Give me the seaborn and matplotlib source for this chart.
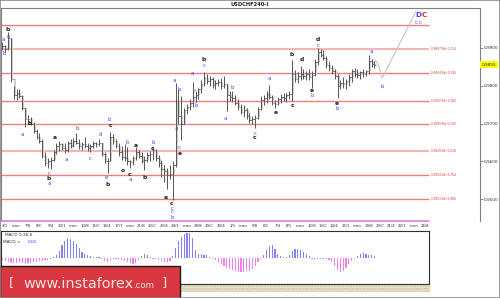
import numpy as np
import pandas as pd
import matplotlib
matplotlib.use("Agg")
import matplotlib.pyplot as plt
import matplotlib.transforms as mtransforms
from matplotlib.patches import Rectangle
import seaborn as sns

sns.set_style("white")
plt.rcParams['font.family'] = ['DejaVu Sans']

# ---------------- data ----------------
title = "USDCHF240-I"
highs = [0.9915, 0.9908, 0.9941, 0.9925, 0.9800, 0.9790, 0.9792, 0.9775, 0.9740, 0.9722,
         0.9718, 0.9705, 0.9685, 0.9675, 0.9660, 0.9625, 0.9608, 0.9612, 0.9630, 0.9650,
         0.9655, 0.9650, 0.9648, 0.9655, 0.9660, 0.9662, 0.9676, 0.9660, 0.9652, 0.9665,
         0.9650, 0.9645, 0.9655, 0.9652, 0.9660, 0.9650, 0.9625, 0.9610, 0.9678, 0.9672,
         0.9660, 0.9648, 0.9640, 0.9645, 0.9637, 0.9605, 0.9615, 0.9638, 0.9630, 0.9625,
         0.9615, 0.9625, 0.9628, 0.9640, 0.9632, 0.9618, 0.9605, 0.9590, 0.9582, 0.9590,
         0.9600, 0.9808, 0.9790, 0.9772, 0.9740, 0.9752, 0.9765, 0.9810, 0.9785, 0.9795,
         0.9815, 0.9836, 0.9830, 0.9825, 0.9822, 0.9815, 0.9818, 0.9820, 0.9825, 0.9805,
         0.9785, 0.9785, 0.9775, 0.9765, 0.9752, 0.9748, 0.9740, 0.9728, 0.9720, 0.9722,
         0.9745, 0.9772, 0.9775, 0.9785, 0.9802, 0.9775, 0.9762, 0.9770, 0.9778, 0.9782,
         0.9780, 0.9785, 0.9868, 0.9842, 0.9835, 0.9852, 0.9845, 0.9838, 0.9845, 0.9838,
         0.9870, 0.9900, 0.9898, 0.9895, 0.9878, 0.9865, 0.9855, 0.9845, 0.9830, 0.9815,
         0.9822, 0.9818, 0.9830, 0.9845, 0.9848, 0.9845, 0.9840, 0.9845, 0.9842, 0.9882,
         0.9870, 0.9865]
lows = [0.9893, 0.9889, 0.9895, 0.9809, 0.9765, 0.9762, 0.9768, 0.9735, 0.9692, 0.9700,
        0.9697, 0.9675, 0.9660, 0.9650, 0.9610, 0.9588, 0.9584, 0.9580, 0.9600, 0.9620,
        0.9628, 0.9630, 0.9622, 0.9625, 0.9635, 0.9638, 0.9645, 0.9632, 0.9630, 0.9635,
        0.9628, 0.9624, 0.9635, 0.9638, 0.9640, 0.9615, 0.9595, 0.9570, 0.9600, 0.9645,
        0.9635, 0.9615, 0.9605, 0.9600, 0.9592, 0.9582, 0.9590, 0.9605, 0.9608, 0.9595,
        0.9578, 0.9598, 0.9600, 0.9605, 0.9600, 0.9585, 0.9560, 0.9545, 0.9528, 0.9555,
        0.9498, 0.9585, 0.9700, 0.9658, 0.9700, 0.9725, 0.9735, 0.9745, 0.9758, 0.9765,
        0.9780, 0.9800, 0.9805, 0.9800, 0.9795, 0.9792, 0.9798, 0.9790, 0.9795, 0.9732,
        0.9760, 0.9758, 0.9750, 0.9735, 0.9725, 0.9718, 0.9712, 0.9702, 0.9700, 0.9688,
        0.9712, 0.9735, 0.9748, 0.9755, 0.9765, 0.9750, 0.9740, 0.9748, 0.9755, 0.9760,
        0.9758, 0.9765, 0.9760, 0.9810, 0.9808, 0.9815, 0.9818, 0.9815, 0.9815, 0.9795,
        0.9825, 0.9855, 0.9875, 0.9868, 0.9848, 0.9840, 0.9830, 0.9818, 0.9767, 0.9790,
        0.9795, 0.9792, 0.9800, 0.9810, 0.9822, 0.9820, 0.9818, 0.9822, 0.9825, 0.9832,
        0.9850, 0.9848]
closes = [0.9905, 0.9897, 0.9925, 0.9818, 0.9775, 0.9782, 0.9772, 0.9742, 0.9712, 0.9712,
          0.9700, 0.9680, 0.9665, 0.9655, 0.9615, 0.9595, 0.9600, 0.9605, 0.9625, 0.9642,
          0.9645, 0.9635, 0.9630, 0.9648, 0.9640, 0.9655, 0.9650, 0.9640, 0.9645, 0.9640,
          0.9636, 0.9640, 0.9648, 0.9645, 0.9650, 0.9620, 0.9600, 0.9602, 0.9665, 0.9655,
          0.9640, 0.9625, 0.9612, 0.9608, 0.9600, 0.9598, 0.9610, 0.9625, 0.9615, 0.9600,
          0.9605, 0.9618, 0.9620, 0.9630, 0.9610, 0.9595, 0.9580, 0.9575, 0.9565, 0.9568,
          0.9590, 0.9760, 0.9720, 0.9700, 0.9735, 0.9745, 0.9755, 0.9770, 0.9775, 0.9790,
          0.9805, 0.9820, 0.9812, 0.9818, 0.9802, 0.9808, 0.9810, 0.9800, 0.9805, 0.9775,
          0.9770, 0.9768, 0.9755, 0.9745, 0.9730, 0.9735, 0.9720, 0.9710, 0.9712, 0.9715,
          0.9738, 0.9762, 0.9768, 0.9778, 0.9770, 0.9755, 0.9752, 0.9765, 0.9770, 0.9768,
          0.9775, 0.9778, 0.9830, 0.9818, 0.9825, 0.9830, 0.9826, 0.9832, 0.9822, 0.9828,
          0.9862, 0.9890, 0.9882, 0.9872, 0.9855, 0.9848, 0.9838, 0.9825, 0.9800, 0.9808,
          0.9805, 0.9812, 0.9822, 0.9838, 0.9830, 0.9828, 0.9835, 0.9830, 0.9838, 0.9865,
          0.9858, 0.9855]
first_open = 0.9900

macd_hist = [-2, -3, -4, -5, -5, -5, -4, -5, -6, -5,
             -5, -4, -4, -3, -3, -2, -2, -1, 1, 3,
             7, 13, 17, 20, 19, 17, 14, 10, 6, 4,
             3, 2, 1.5, 1, 1, -1, -3, -4, -2, -1,
             -1, -2, -2, -3, -4, -5, -6, -5, -2, 2,
             4, 3, 1, -1, -1, -2, -3, -4, -4, -3,
             2, 10, 17, 21, 24, 25, 25, 20, 8, 4,
             4, 3, 3, 1, -1, -2, -4, -6, -8, -10,
             -11, -12, -13, -14, -14, -14, -13, -13, -11, -8,
             -4, -1, 3, 8, 12, 13, 9, 4, 2, 1,
             1, 3, 7, 9, 9, 8, 6, 4, 2, -1,
             -2, -1, -1, -1, -1, -2, -4, -8, -12, -14,
             -13, -10, -6, -3, -1, 2, 4, 5, 4, 3,
             3, 2]

fib_levels = [0.9960, 0.9897, 0.9834, 0.9760, 0.9699, 0.9629, 0.9564, 0.9501]
fib_labels = ["", "0,9897 Ret 0.114", "0,9834 Ret 0.236", "0,9760 Ret 0.382",
              "0,9699 Ret 0.500", "0,9629 Ret 0.618", "0,9564 Ret 0.764", "0,9501 Ret 0.886"]

x_labels = ["3/1", "mon", "7/8", "8/C", "9/4", "10/1", "mon", "14/8", "15/C", "16/4",
            "17/1", "mon", "21/8", "22/C", "23/4", "24/1", "mon", "28/8", "29/C", "30/4",
            "1/1", "mon", "5/8", "6/C", "7/4", "8/1", "mon", "12/8", "13/C", "14/4",
            "15/1", "mon", "19/8", "20/C", "21/4", "22/1", "mon", "26/8"]
price_ticks = [0.9500, 0.9600, 0.9700, 0.9800, 0.9900]

# wave labels: bar position, price, text, colour key
lab_x = [0.2, 0.6, 2.0, 2.0, 6.9, 9.7, 16.4, 16.4, 16.4, 18.5,
         22.4, 26.3, 30.8, 34.4, 36.8, 37.2, 37.5, 37.9, 43.9, 42.5,
         44.9, 44.9, 47.0, 50.2, 53.0, 53.0, 57.6, 59.7, 59.7, 59.7,
         59.7, 60.4, 62.2, 61.1, 62.2, 62.5, 66.8, 68.2, 67.8, 71.0,
         71.0, 80.8, 78.4, 88.9, 88.9, 93.9, 96.3, 102.0, 102.3, 105.5,
         109.0, 109.0, 111.1, 111.1, 117.8, 117.8, 129.8, 133.7]
lab_y = [0.9923, 0.9886, 0.9947, 0.9931, 0.9672, 0.9699, 0.9569, 0.9556, 0.9543, 0.9664,
         0.9606, 0.9688, 0.9609, 0.9670, 0.9559, 0.9540, 0.9712, 0.9696, 0.9651, 0.9576,
         0.9566, 0.9552, 0.9643, 0.9559, 0.9651, 0.9635, 0.9506, 0.9490, 0.9477, 0.9467,
         0.9453, 0.9815, 0.9791, 0.9688, 0.9638, 0.9620, 0.9833, 0.9749, 0.9786, 0.9868,
         0.9852, 0.9796, 0.9714, 0.9675, 0.9662, 0.9820, 0.9730, 0.9881, 0.9749, 0.9870,
         0.9788, 0.9773, 0.9923, 0.9907, 0.9754, 0.9741, 0.9889, 0.9799]
lab_t = ["a", "b", "b", "e", "a", "b", "c", "b", "a", "a",
         "a", "b", "c", "d", "e", "b", "b", "c", "b", "o",
         "c", "a", "a", "b", "b", "c", "a", "c", "c", "c",
         "b", "a", "b", "a", "c", "e", "a", "b", "f", "b",
         "c", "b", "a", "c", "c", "a", "e", "b", "c", "d",
         "e", "b", "d", "c", "e", "b", "a", "b"]
lab_c = ["B", "B", "K", "B", "B", "K", "B", "K", "B", "K",
         "B", "B", "B", "B", "B", "K", "B", "K", "B", "K",
         "K", "B", "K", "K", "B", "K", "K", "K", "B", "B",
         "B", "B", "B", "B", "B", "K", "B", "B", "M", "K",
         "B", "B", "B", "B", "K", "B", "K", "K", "K", "K",
         "K", "B", "K", "B", "K", "B", "B", "B"]

# projected path (light line) and its end labels
proj_x = [131.2, 132.3, 133.7, 145.6]
proj_y = [0.9868, 0.9857, 0.9820, 0.9996]
end_lab_x = [146.3, 148.4, 145.6, 147.0]
end_lab_y = [0.9986, 0.9986, 0.9968, 0.9968]
end_lab_t = ["D", "C", "c", "c"]
end_lab_c = ["B", "R", "B", "B"]

# ---------------- drawing ----------------
W, H = 500, 298
PPB = 2.84  # pixels per bar
colmap = {"B": "#4646f2", "K": "#1e1e1e", "M": "#e040e0", "R": "#e02828"}

fig = plt.figure(figsize=(W / 100, H / 100), dpi=100)
fig.patch.set_facecolor("white")

ax = fig.add_axes([1 / W, 1 - 221 / H, 479 / W, 213 / H])
x_end_main = -0.5 + 479 / PPB
x_end_data = -0.5 + 428 / PPB
ax.set_xlim(-0.5, x_end_main)
ax.set_ylim(0.9443, 1.0005)
ax.set_facecolor("white")

idx = np.arange(len(closes))
opens = [first_open] + closes[:-1]
df = pd.DataFrame({"i": idx, "o": opens, "h": highs, "l": lows, "c": closes})

# fibonacci levels
for lev, lab in zip(fib_levels, fib_labels):
    light = lab.endswith("0.114") or lab.endswith("0.618")
    ax.hlines(lev, -0.5, x_end_data, color="#f7b4b4" if light else "#f07c7c",
              lw=1.5 if light else 1.0, zorder=1)
    if lab:
        ax.text(x_end_data + 0.6, lev, lab, color="#e23030", fontsize=2.1,
                ha="left", va="center", clip_on=False)

# OHLC bars with light bodies
body_lo = np.minimum(df["o"], df["c"])
body_hi = np.maximum(df["o"], df["c"])
ax.bar(df["i"] + 0.35, body_hi - body_lo, bottom=body_lo, width=0.7,
       color="#cfcfcf", linewidth=0, zorder=2)
ax.vlines(df["i"], df["l"], df["h"], color="#555555", lw=0.7, zorder=3)
ax.hlines(df["o"], df["i"] - 0.45, df["i"], color="#555555", lw=0.6, zorder=3)
ax.hlines(df["c"], df["i"], df["i"] + 0.45, color="#555555", lw=0.6, zorder=3)

# projection
sns.lineplot(x=proj_x, y=proj_y, ax=ax, color="#c4c4cc", lw=0.8, sort=False, zorder=2)

# wave labels
for x, y, t, c in zip(lab_x, lab_y, lab_t, lab_c):
    ax.text(x, y, t, color=colmap[c], fontsize=4.3 if c == "K" else 4.0,
            fontweight="bold" if c == "K" else "normal",
            ha="center", va="center", clip_on=False, zorder=5)
for x, y, t, c in zip(end_lab_x, end_lab_y, end_lab_t, end_lab_c):
    big = t.isupper()
    ax.text(x, y, t, color=colmap[c], fontsize=5.2 if big else 4.0,
            fontweight="bold" if big else "normal",
            ha="center", va="center", zorder=5)

# bottom magenta line
ax.plot([-0.5, x_end_data], [0.9443, 0.9443], color="#e47ae4", lw=1.2, clip_on=False, zorder=4)

# axes styling
ax.spines["bottom"].set_visible(False)
for s in ["left", "top", "right"]:
    ax.spines[s].set_color("#808080")
    ax.spines[s].set_linewidth(0.8)

ax.set_xticks(np.arange(len(x_labels)) * 4 + 0.9)
ax.set_xticklabels(x_labels)
ax.set_xticks(np.arange(len(x_labels)) * 4 + 2.9, minor=True)
ax.tick_params(axis="x", which="major", length=0, labelsize=2.8, pad=2.2, colors="#303030")
ax.tick_params(axis="x", which="minor", length=2.2, width=0.5, color="#606060", direction="out")

ax.yaxis.tick_right()
ax.set_yticks(price_ticks)
ax.set_yticklabels([f"{p:.4f}".replace(".", ",") for p in price_ticks])
ax.tick_params(axis="y", length=2, width=0.5, color="#606060", labelsize=3.1, pad=1,
               labelcolor="#303030")
ax.set_xlabel("")
ax.set_ylabel("")

# current price box
trans = mtransforms.blended_transform_factory(ax.transAxes, ax.transData)
ax.text(1.0 + 2 / 479, closes[-1], f"{closes[-1]:.4f}".replace(".", ","),
        transform=trans, fontsize=3.1, ha="left", va="center", color="#202020",
        bbox=dict(facecolor="#ffff00", edgecolor="none", boxstyle="square,pad=0.35"),
        clip_on=False, zorder=6)

# title
fig.text(250 / W, 1 - 4.5 / H, title, fontsize=3.7, fontweight="bold",
         ha="center", va="center", color="#202020")

# ---------------- MACD ----------------
axm = fig.add_axes([1 / W, 1 - 284 / H, 428 / W, 53 / H])
mdf = pd.DataFrame({"i": idx, "v": macd_hist,
                    "s": ["pos" if v >= 0 else "neg" for v in macd_hist]})
sns.barplot(data=mdf, x="i", y="v", hue="s", palette={"pos": "#8282f2", "neg": "#f27ef2"},
            native_scale=True, dodge=False, width=0.4, legend=False, errorbar=None,
            saturation=1, linewidth=0, ax=axm)
axm.set_xlim(-0.5, x_end_data)
axm.set_ylim(-26, 27)
axm.set_xticks([])
axm.set_yticks([])
axm.set_xlabel("")
axm.set_ylabel("")
for s in axm.spines.values():
    s.set_color("#303030")
    s.set_linewidth(0.8)
axm.text(0.009, 0.92, "MACD 9,36,6", transform=axm.transAxes, fontsize=3.1,
         color="#303030", ha="left", va="center")
axm.text(0.005, 0.80, "MACD = ", transform=axm.transAxes, fontsize=3.1,
         color="#303030", ha="left", va="center")
axm.text(0.062, 0.80, "0,00", transform=axm.transAxes, fontsize=3.1,
         color="#4646f2", ha="left", va="center")

# hatched strip under MACD
fig.patches.append(Rectangle((0, 1 - 292 / H), 430 / W, 7 / H, transform=fig.transFigure,
                             facecolor="#ece3cf", edgecolor="#cbbd9a", hatch="......",
                             lw=0, zorder=1))

# banner
fig.patches.append(Rectangle((0, 0), 180 / W, (H - 266) / H, transform=fig.transFigure,
                             facecolor="#d8373f", edgecolor="#1a1a1a", lw=1.0, zorder=2))
fig.text(11 / W, 1 - 283 / H, "[", fontsize=9.5, color="#f6e4e4", ha="center",
         va="center", zorder=3)
t1 = fig.text(23 / W, 1 - 288 / H, "www.instaforex", fontsize=10.4, color="#f6e4e4",
              ha="left", va="baseline", zorder=3)
fig.canvas.draw()
bb = t1.get_window_extent(fig.canvas.get_renderer())
fig.text(bb.x1 / W, 1 - 288 / H, ".com", fontsize=6.2, color="#f6e4e4",
         ha="left", va="baseline", zorder=3)
fig.text(164 / W, 1 - 283 / H, "]", fontsize=9.5, color="#f6e4e4", ha="center",
         va="center", zorder=3)

# outer frame
fig.patches.append(Rectangle((0, 0), 1, 1, transform=fig.transFigure, fill=False,
                             edgecolor="#8a8a8a", lw=1.2, zorder=10))

fig.savefig("out.png", dpi=100, facecolor="white")
